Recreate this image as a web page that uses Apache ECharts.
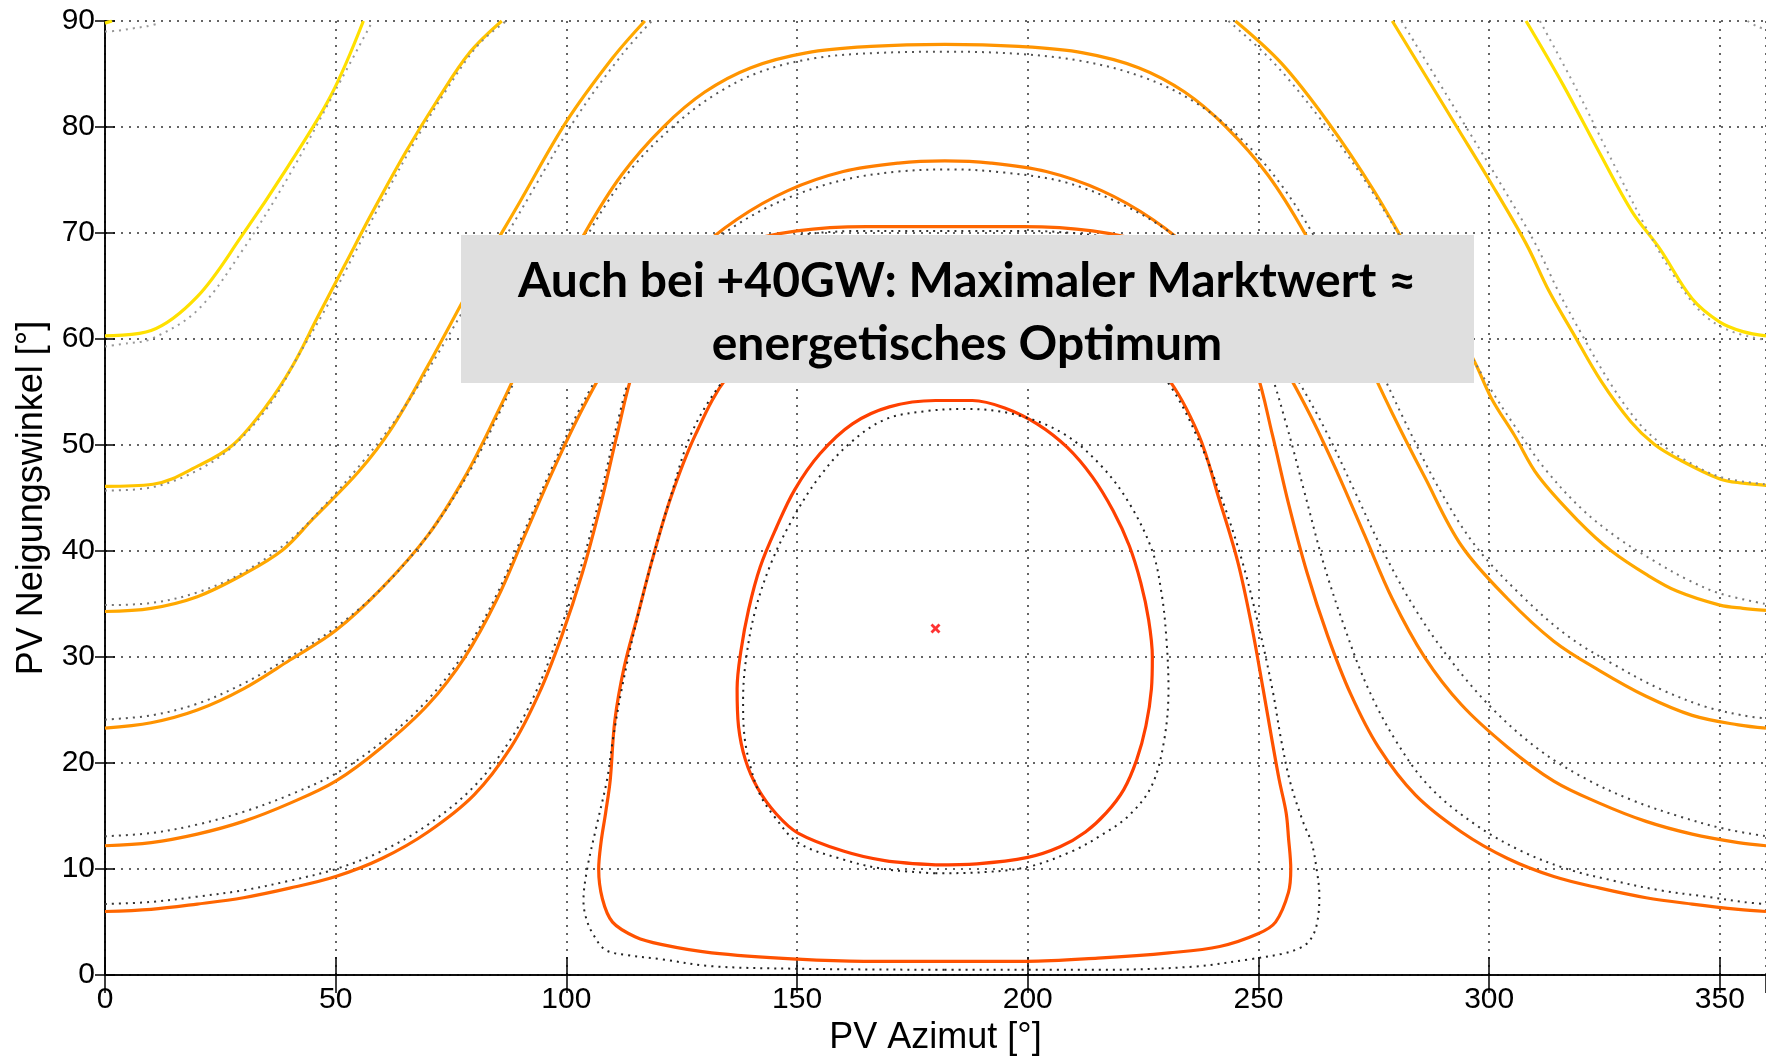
<!DOCTYPE html>
<html><head><meta charset="utf-8">
<script src="https://cdn.jsdelivr.net/npm/echarts@6/dist/echarts.min.js"></script>
<style>html,body{margin:0;padding:0;background:#fff}#c{width:1766px;height:1061px}</style>
</head><body><div id="c"></div>
<script>
// ---- axis ticks ----
const xTicks = [0, 50, 100, 150, 200, 250, 300, 350];
const yTicks = [0, 10, 20, 30, 40, 50, 60, 70, 80, 90];

// ---- solid contours (market value) [azimuth, tilt] ----
const L0_left = [[0,89.8],[1.5,90]];
const L1_left = [[0,60.3],[10,60.8],[20,64],[29.6,69.7],[39.4,76.1],[49,83],[56,90]];
const L1_right = [[308,90],[316,84],[324,77.5],[331,72],[337,68.5],[344,63.8],[350,61.6],[355,60.7],[360,60.3]];
const L2_left = [[0,46.1],[10.4,46.3],[20.5,48.1],[27.7,50],[35,53.7],[40.7,57.5],[46,62],[52,67],[58,72],[65,77.5],[72,82.5],[79,87],[86,90]];
const L2_right = [[279,90],[286,85],[293,80],[300,75],[308,69],[313,64.5],[318,60.7],[324.3,56],[330.7,52.2],[335.7,50.1],[340.9,48.7],[350,46.8],[355,46.4],[360,46.2]];
const L3_left = [[0,34.3],[10,34.6],[20,35.7],[30,37.8],[38.5,40.1],[45,43],[55,47.5],[62,51.5],[70,57.5],[80,65.5],[90,73],[100,80.5],[110,86.5],[117,90]];
const L3_right = [[245,90],[255,86],[265,80.5],[275,74],[285,66.5],[296.2,58.4],[300.5,54.4],[305.5,50.9],[310.6,47.1],[319.4,42.8],[326.5,40],[334.4,37.7],[340.8,36.2],[350,34.9],[355,34.6],[360,34.4]];
const L4 = [[0,23.3],[10,23.8],[20,25],[30,27],[40,29.7],[50,32.5],[60,36.5],[70,41.5],[78,47],[85,53],[91,58.5],[97,64],[104,70],[112,75.5],[121,80],[130,83.3],[140,85.6],[152,87],[166,87.6],[182,87.8],[198,87.6],[212,87],[224,85.6],[234,83.3],[243,80],[252,75.5],[260,70],[267,64],[273,58.5],[279,53],[286,47],[294,40.5],[304,35.5],[314,31.5],[324,28.7],[334,26.3],[344,24.5],[354,23.6],[360,23.3]];
const L5 = [[0,12.2],[10,12.5],[20,13.3],[30,14.5],[40,16.2],[50,18.3],[60,21.5],[70,25.5],[78,30],[85,35.5],[91,41.5],[97,47.5],[103,53],[110,58.5],[118,63.5],[127,67.8],[137,71.3],[148,74],[160,75.8],[172,76.6],[182,76.8],[192,76.6],[204,75.8],[216,74],[227,71.3],[237,67.8],[246,63.5],[254,58.5],[261,53],[267,47.5],[273,41.5],[279,35.5],[286,30],[294,25.5],[304,21.5],[314,18.3],[324,16.2],[334,14.5],[344,13.3],[354,12.5],[360,12.2]];
const L6 = [[0,6],[10,6.2],[20,6.7],[30,7.3],[40,8.2],[50,9.3],[60,11],[70,13.5],[80,17],[88,21.5],[94,26.5],[99,32],[103.5,38],[107.5,44.5],[111,51],[114.5,57],[120,62.5],[128,66.5],[138,69],[150,70.2],[165,70.6],[182,70.6],[199,70.6],[214,70.2],[226,69],[236,66.5],[244,62.5],[249.5,57],[253,51],[256.5,44.5],[260.5,38],[265,32],[270,26.5],[276,21.5],[284,17],[294,13.5],[304,11],[314,9.3],[324,8.2],[334,7.3],[344,6.7],[354,6.2],[360,6]];
const U_loop = [[182,1.3],[199.8,1.3],[215.2,1.6],[230.6,2.1],[241.6,2.7],[249.9,3.9],[253.7,5],[256.5,7.8],[257,10],[256.5,13],[256,15.3],[254.5,18.4],[253,22],[251,27],[248.5,33],[245.5,39],[241.4,45],[237,51],[230,56.5],[220,60.5],[205,63],[182,64],[160,63],[145,60.5],[135,56.5],[128,51],[122.6,45],[118.5,39],[115.5,34],[112.5,29],[110.5,24],[109.5,18.4],[108.5,15.3],[107.5,12.5],[107,10],[107.8,7.2],[110,5],[115,3.6],[120.5,2.9],[131.5,2.1],[150.2,1.5],[164.5,1.3],[182,1.3]];
const inner_loop = [[180,10.4],[189,10.5],[200,11.1],[207,12.1],[212.5,13.5],[217,15.3],[220.8,17.5],[223.6,20.3],[225.6,23.5],[226.8,27],[227,30],[226.2,33.5],[224.5,37],[222,40.5],[218.5,43.8],[214,47],[208.5,49.8],[202,52],[195,53.5],[188,54.2],[180,54.2],[170,53.6],[162,52],[155,49.2],[149.5,45.8],[145.5,42.2],[142,38.5],[139.5,34.5],[137.8,30.5],[137,27],[137.3,23.5],[138.8,20.3],[141.5,17.6],[145.5,15.2],[150.2,13.4],[160,11.7],[169,10.8],[180,10.4]];

// ---- dotted contours (energetic optimum) ----
const D0_left = [[0,89],[3,89.1],[6,89.3],[9,89.5],[11,89.7]];
const D0_right = [[356,90],[358,89.5],[360,89.2]];
const D1_left = [[0,59.3],[5,59.6],[10,60],[20,62.7],[30,68.5],[40,75.5],[50,83.5],[58,90]];
const D1_right = [[311,90],[319,83.5],[327,76.5],[334,70.5],[340,66],[346,62.5],[352,60.8],[360,59.9]];
const D2_left = [[0,45.7],[10,46],[20,47.6],[28,50],[36,54],[42,58.5],[48,63],[54,68],[60,73],[67,78.5],[74,83.5],[81,87.8],[87,90]];
const D2_right = [[281,90],[288,85],[295,80],[302,75],[310,69],[315,64.5],[320,60.5],[326,56],[332,52.3],[337,50.2],[342,48.7],[350,47],[360,46.3]];
const D3_left = [[0,34.9],[10,35.1],[20,36.1],[30,38],[40,41],[48,44.5],[56,48.5],[64,53],[72,58.5],[82,66],[92,73.5],[102,80.8],[112,86.8],[118.5,90]];
const D3_right = [[243.5,90],[253,86.2],[263,81],[273,75],[283,68],[294,60],[300,55.5],[306,51.5],[312,47.8],[320,44],[328,41.2],[336,39],[343,37.3],[350,36],[360,35]];
const D4 = [[0,24.1],[10,24.5],[20,25.6],[30,27.5],[40,30],[50,32.8],[60,36.5],[70,41.5],[79,47.5],[86,53.5],[92,59],[98.5,64.5],[105.5,70.5],[114,76],[123,80],[132,83],[142,85.2],[154,86.5],[168,87],[183,87.1],[198,86.9],[212,86.2],[225,84.7],[236,82.4],[246,79],[255,74.5],[263,69],[270,63],[276,57.5],[282,52],[289,46],[297,40.5],[307,35.8],[317,32],[327,29.3],[337,27],[347,25.3],[355,24.5],[360,24.2]];
const D5 = [[0,13.1],[10,13.4],[20,14.2],[30,15.4],[40,17],[50,19],[60,22],[70,26],[78,30.5],[85,36],[91,42],[97,48],[103,53.5],[110,58.8],[118,63.5],[127,67.5],[137,70.8],[148,73.3],[160,75],[172,75.8],[183,76],[195,75.7],[208,74.8],[220,72.8],[231,70],[241,66.2],[250,61.8],[258,56.5],[265,51],[271,45.5],[277,40],[284,34.5],[292,29.5],[301,25],[311,21.2],[321,18.5],[331,16.5],[341,15],[351,13.8],[360,13.1]];
const D6 = [[0,6.7],[10,6.9],[20,7.4],[30,8],[40,8.9],[50,10],[60,11.7],[70,14.2],[80,17.8],[88,22.3],[94,27.3],[99,33],[103.5,39],[107.5,45.5],[111,52],[114.5,57.5],[120,62.5],[128,66.3],[138,68.7],[150,69.8],[165,70.2],[182,70.2],[199,70.2],[214,69.8],[227,68.7],[238,66.3],[246,62.5],[252,57.5],[256,52],[260,45.5],[264,39],[268.5,33],[273.5,27.3],[279.5,22.3],[287,17.8],[297,14.2],[307,11.7],[317,10],[327,8.9],[337,8],[347,7.4],[355,6.9],[360,6.7]];
const DU_loop = [[182,0.5],[215,0.5],[236,0.8],[248.2,1.5],[255,2],[258.7,2.5],[261,3.2],[262.6,4.7],[263.2,7.5],[262.6,10],[261.5,12.5],[259.8,14.3],[257,18],[255,22],[253,27],[250,33],[246.5,39],[242,45],[237,50.5],[231,55.5],[223,59.5],[212,62],[198,63.5],[182,64],[166,63.5],[152,62],[141,59.5],[133,55.5],[127,51],[122.5,45],[118.5,39],[115,33],[112,27],[110,22],[108.8,18.4],[106.5,14],[104.5,10],[103.7,7],[104.2,5.5],[105.6,4],[108.4,2.4],[113,1.9],[120.5,1.5],[131.5,0.84],[150,0.6],[182,0.5]];
const Dinner_loop = [[180,9.6],[190,9.7],[200,10.2],[209.7,11.7],[216.3,13.3],[221.8,15],[226.8,17.8],[229.5,22],[230.5,27],[230,32],[229,36],[227,40],[222,44.5],[216,48],[208,51],[198,52.8],[187,53.4],[178,53.2],[169,52.4],[161,50],[154.5,46.8],[149,43],[144.5,39],[141,34.5],[139,30],[138.3,26],[138.6,22.5],[140,19.5],[142,17],[145,15],[150.2,12.5],[160,10.9],[169,10],[180,9.6]];

const optimumPoint = [[180, 32.7]];

const boxLine1 = 'Auch bei +40GW: Maximaler Marktwert \u2248';
const boxLine2 = 'energetisches Optimum';

const FONT = 'Liberation Sans, Arial, sans-serif';

function solid(data, color) {
  return { type: 'line', data: data, showSymbol: false, smooth: 0.35, silent: true,
    lineStyle: { color: color, width: 3.2 }, z: 3 };
}
function dotted(data, color) {
  return { type: 'line', data: data, showSymbol: false, smooth: 0.35, silent: true,
    lineStyle: { color: color, width: 2, type: [2, 5] }, z: 4 };
}

const series = [
  solid(L0_left, '#FFE800'),
  solid(L1_left, '#FFE000'), solid(L1_right, '#FFE000'),
  solid(L2_left, '#FFC400'), solid(L2_right, '#FFC400'),
  solid(L3_left, '#FFA800'), solid(L3_right, '#FFA800'),
  solid(L4, '#FF9400'), solid(L5, '#FF7E00'), solid(L6, '#FF6600'),
  solid(U_loop, '#FF5200'), solid(inner_loop, '#FF4000'),
  dotted(D0_left, '#999'), dotted(D0_right, '#999'),
  dotted(D1_left, '#999'), dotted(D1_right, '#999'),
  dotted(D2_left, '#888'), dotted(D2_right, '#888'),
  dotted(D3_left, '#777'), dotted(D3_right, '#777'),
  dotted(D4, '#555'), dotted(D5, '#444'), dotted(D6, '#333'),
  dotted(DU_loop, '#222'), dotted(Dinner_loop, '#222'),
  { type: 'scatter', data: optimumPoint, silent: true, z: 6,
    symbol: 'path://M0,2L2,0L5,3L8,0L10,2L7,5L10,8L8,10L5,7L2,10L0,8L3,5Z',
    symbolSize: 10, itemStyle: { color: '#FF0000' } }
];

const axisLineStyle = { color: '#000', width: 1.5 };
const gridDots = { type: [2, 6], color: '#333', width: 1.5 };

const option = {
  animation: false,
  backgroundColor: '#fff',
  grid: { left: 105, top: 21, width: 1666.5, height: 957 },
  xAxis: [
    { type: 'value', min: 0, max: 360, interval: 50, position: 'bottom',
      axisLine: { lineStyle: axisLineStyle },
      axisTick: { inside: true, length: 18, lineStyle: axisLineStyle },
      axisLabel: { fontSize: 30, color: '#000', fontFamily: FONT, margin: 10, showMaxLabel: false,
        formatter: v => xTicks.indexOf(v) >= 0 ? String(v) : '' },
      splitLine: { show: true, lineStyle: gridDots },
      name: 'PV Azimut [\u00b0]', nameLocation: 'middle', nameGap: 40,
      nameTextStyle: { fontSize: 36, color: '#000', fontFamily: FONT } },
    { type: 'value', min: 0, max: 360, interval: 50, position: 'top',
      axisLine: { lineStyle: axisLineStyle },
      axisTick: { inside: true, length: 18, lineStyle: axisLineStyle },
      axisLabel: { show: false }, splitLine: { show: false } }
  ],
  yAxis: [
    { type: 'value', min: 0, max: 90, interval: 10, position: 'left',
      axisLine: { show: true, lineStyle: axisLineStyle },
      axisTick: { show: true, inside: true, length: 10, lineStyle: axisLineStyle },
      axisLabel: { fontSize: 30, color: '#000', fontFamily: FONT, margin: 10,
        formatter: v => yTicks.indexOf(v) >= 0 ? String(v) : '' },
      splitLine: { show: true, lineStyle: gridDots },
      name: 'PV Neigungswinkel [\u00b0]', nameLocation: 'middle', nameGap: 55,
      nameTextStyle: { fontSize: 36, color: '#000', fontFamily: FONT } },
    { type: 'value', min: 0, max: 90, interval: 10, position: 'right',
      axisLine: { show: true, lineStyle: axisLineStyle },
      axisTick: { show: true, inside: true, length: 10, lineStyle: axisLineStyle },
      axisLabel: { show: false }, splitLine: { show: false } }
  ],
  graphic: [
    { type: 'rect', shape: { x: 461, y: 235, width: 1013, height: 148 },
      style: { fill: '#DFDFDF' }, z: 100 },
    { type: 'text', x: 967, y: 282, z: 101,
      style: { text: boxLine1, fontSize: 48, fontWeight: 'bold', fontFamily: 'Lato, Open Sans, sans-serif',
        fill: '#000', align: 'center', verticalAlign: 'middle' } },
    { type: 'text', x: 967, y: 345, z: 101,
      style: { text: boxLine2, fontSize: 48, fontWeight: 'bold', fontFamily: 'Lato, Open Sans, sans-serif',
        fill: '#000', align: 'center', verticalAlign: 'middle' } }
  ],
  series: series
};

const chart = echarts.init(document.getElementById('c'), null, { renderer: 'canvas' });
chart.setOption(option);
</script></body></html>
